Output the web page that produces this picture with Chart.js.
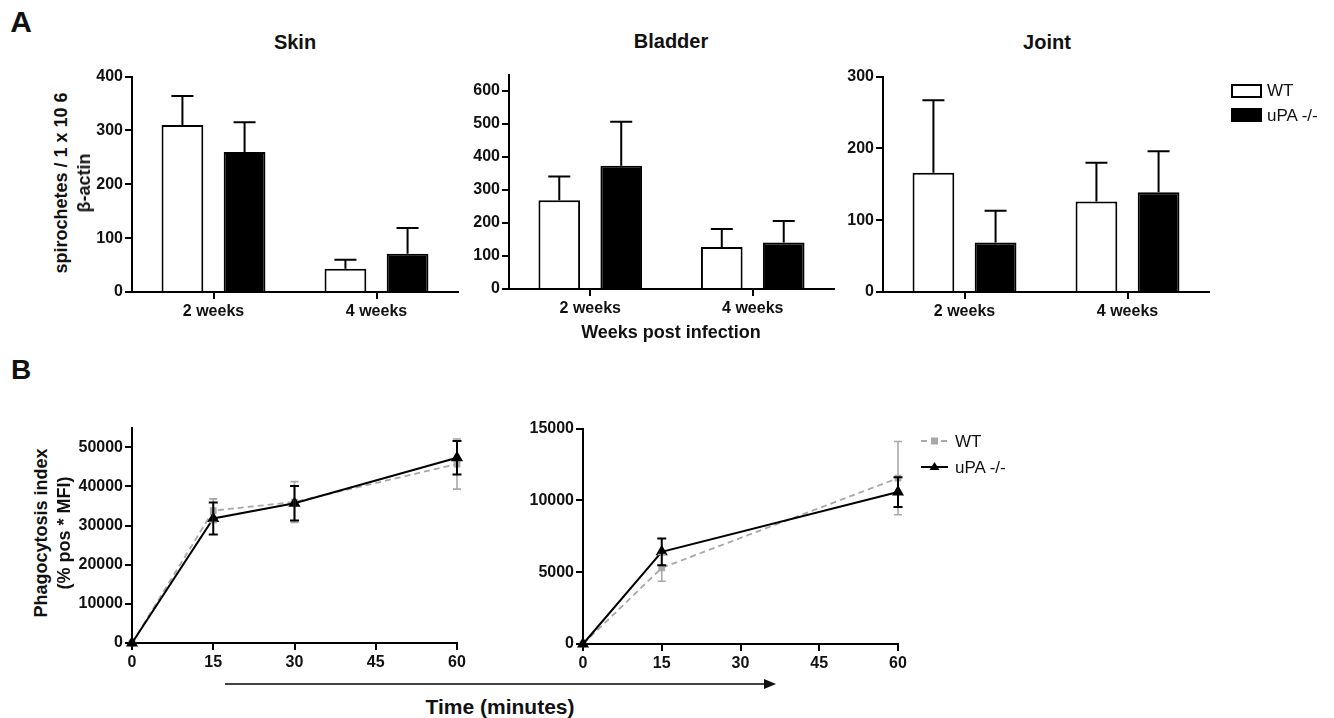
<!DOCTYPE html>
<html>
<head>
<meta charset="utf-8">
<script src="https://cdn.jsdelivr.net/npm/chart.js@4"></script>
<style>
  html, body { margin:0; padding:0; background:#fff; }
  body { width:1334px; height:718px; position:relative; overflow:hidden; font-family:"Liberation Sans", Arial, sans-serif; color:#111; }
  .box { position:absolute; }
  .t { position:absolute; transform:translate(-50%,-50%); white-space:nowrap; line-height:1; font-weight:bold; }
  .rot { transform:translate(-50%,-50%) rotate(-90deg); }
  .lg { position:absolute; white-space:nowrap; line-height:1; font-size:17px; transform:translateY(-50%); }
</style>
</head>
<body>
<script>
// ---------------- DATA ----------------
const barCategories = ['2 weeks', '4 weeks'];

const skinWT       = [310, 43];
const skinWTErr    = [54, 17];
const skinUPA      = [260, 71];
const skinUPAErr   = [55, 48];
const skinTicks    = [0, 100, 200, 300, 400];

const bladderWT     = [269, 127];
const bladderWTErr  = [72, 55];
const bladderUPA    = [374, 141];
const bladderUPAErr = [133, 65];
const bladderTicks  = [0, 100, 200, 300, 400, 500, 600];

const jointWT     = [166, 126];
const jointWTErr  = [101, 54];
const jointUPA    = [69, 139];
const jointUPAErr = [44, 57];
const jointTicks  = [0, 100, 200, 300];

const timeA      = [0, 15, 30, 60];
const phagoWT_A     = [0, 33800, 36000, 45700];
const phagoWT_AErr  = [0, 3000, 5200, 6400];
const phagoUPA_A    = [0, 31800, 35700, 47300];
const phagoUPA_AErr = [0, 4100, 4400, 4300];
const phagoTicksA   = [0, 10000, 20000, 30000, 40000, 50000];

const timeB      = [0, 15, 60];
const phagoWT_B     = [0, 5300, 11550];
const phagoWT_BErr  = [0, 930, 2550];
const phagoUPA_B    = [0, 6420, 10580];
const phagoUPA_BErr = [0, 930, 1040];
const phagoTicksB   = [0, 5000, 10000, 15000];

const timeTicks = [0, 15, 30, 45, 60];
// --------------------------------------

const FONT = '"Liberation Sans", Arial, sans-serif';
const TICK_FONT = { family: FONT, size: 16, weight: 'bold' };

const errorBarPlugin = {
  id: 'errorBars',
  afterDatasetsDraw(chart) {
    const ctx = chart.ctx;
    const ys = chart.scales.y;
    const idx = chart.data.datasets.map((d, i) => i)
      .sort((a, b) => (chart.data.datasets[b].order || 0) - (chart.data.datasets[a].order || 0));
    idx.forEach(di => {
      const ds = chart.data.datasets[di];
      if (!ds.errorBars) return;
      const meta = chart.getDatasetMeta(di);
      meta.data.forEach((el, i) => {
        const err = ds.errorBars[i];
        if (!err) return;
        const raw = ds.data[i];
        const v = (typeof raw === 'object') ? raw.y : raw;
        const yTop = ys.getPixelForValue(v + err);
        const yBot = ds.errorBothSides ? ys.getPixelForValue(v - err) : el.y;
        const cw = ds.capHalf || 5;
        ctx.save();
        ctx.strokeStyle = ds.errorColor || '#000';
        ctx.lineWidth = ds.errorWidth || 2;
        ctx.beginPath();
        ctx.moveTo(el.x, yBot); ctx.lineTo(el.x, yTop);
        ctx.moveTo(el.x - cw, yTop); ctx.lineTo(el.x + cw, yTop);
        if (ds.errorBothSides) { ctx.moveTo(el.x - cw, yBot); ctx.lineTo(el.x + cw, yBot); }
        ctx.stroke();
        ctx.restore();
      });
    });
  }
};

function makeBox(left, top, w, h) {
  const d = document.createElement('div');
  d.className = 'box';
  d.style.left = left + 'px'; d.style.top = top + 'px';
  d.style.width = w + 'px'; d.style.height = h + 'px';
  const c = document.createElement('canvas');
  c.width = w; c.height = h;
  d.appendChild(c);
  document.body.appendChild(d);
  return c;
}

function yAxis(max, tickValues) {
  return {
    min: 0, max: max,
    ticks: { color: '#111', padding: 2, font: TICK_FONT, callback: v => String(v) },
    border: { display: true, color: '#000', width: 2 },
    grid: { display: true, drawOnChartArea: false, drawTicks: true, tickLength: 7, color: '#000', lineWidth: 2 },
    afterBuildTicks(s) { s.ticks = tickValues.map(v => ({ value: v })); },
    afterFit(s) { s.width = 60; }
  };
}

function barChart(canvas, wt, wtErr, upa, upaErr, max, tickValues) {
  return new Chart(canvas, {
    type: 'bar',
    data: {
      labels: barCategories,
      datasets: [
        { label: 'WT', data: wt, errorBars: wtErr, backgroundColor: '#fff', borderColor: '#000', borderWidth: 2, borderSkipped: 'start',
          barPercentage: 0.672, categoryPercentage: 0.7625, capHalf: 11, errorWidth: 2 },
        { label: 'uPA -/-', data: upa, errorBars: upaErr, backgroundColor: '#000', borderColor: '#000', borderWidth: 2, borderSkipped: 'start',
          barPercentage: 0.672, categoryPercentage: 0.7625, capHalf: 11, errorWidth: 2 }
      ]
    },
    options: {
      responsive: false, animation: false,
      layout: { padding: { top: 10, right: 15, left: 0, bottom: 0 } },
      plugins: { legend: { display: false }, tooltip: { enabled: false } },
      scales: {
        x: {
          type: 'category', offset: true,
          ticks: { color: '#111', padding: 3, font: TICK_FONT },
          border: { display: true, color: '#000', width: 2 },
          grid: { display: true, offset: false, drawOnChartArea: false, drawTicks: true, tickLength: 7, color: '#000', lineWidth: 2 },
          afterFit(s) { s.height = 40; }
        },
        y: yAxis(max, tickValues)
      }
    },
    plugins: [errorBarPlugin]
  });
}

function lineChart(canvas, times, wt, wtErr, upa, upaErr, max, tickValues) {
  return new Chart(canvas, {
    type: 'line',
    data: {
      datasets: [
        { label: 'WT', order: 1, data: times.map((t, i) => ({ x: t, y: wt[i] })), errorBars: wtErr, errorBothSides: true,
          borderColor: '#a8a8a8', borderWidth: 1.8, borderDash: [6, 4], pointStyle: 'rect', pointRadius: 3.5,
          pointBackgroundColor: '#a8a8a8', pointBorderColor: '#a8a8a8', errorColor: '#a8a8a8', errorWidth: 1.6, capHalf: 4, clip: false },
        { label: 'uPA -/-', order: 0, data: times.map((t, i) => ({ x: t, y: upa[i] })), errorBars: upaErr, errorBothSides: true,
          borderColor: '#000', borderWidth: 2, pointStyle: 'triangle', pointRadius: 5,
          pointBackgroundColor: '#000', pointBorderColor: '#000', errorColor: '#000', errorWidth: 2, capHalf: 4.5, clip: false }
      ]
    },
    options: {
      responsive: false, animation: false,
      layout: { padding: { top: 10, right: 15, left: 0, bottom: 0 } },
      plugins: { legend: { display: false }, tooltip: { enabled: false } },
      scales: {
        x: {
          type: 'linear', min: 0, max: 60,
          afterBuildTicks(s) { s.ticks = timeTicks.map(v => ({ value: v })); },
          ticks: { color: '#111', padding: 3, font: TICK_FONT, callback: v => String(v) },
          border: { display: true, color: '#000', width: 2 },
          grid: { display: true, drawOnChartArea: false, drawTicks: true, tickLength: 7, color: '#000', lineWidth: 2 },
          afterFit(s) { s.height = 40; }
        },
        y: yAxis(max, tickValues)
      }
    },
    plugins: [errorBarPlugin]
  });
}

// Panel A: plot areas  Skin 132-458 x 75-292, Bladder 509-834 x 73-289, Joint 883-1209 x 75-292
barChart(makeBox(72, 65, 401, 267), skinWT, skinWTErr, skinUPA, skinUPAErr, 400, skinTicks);
barChart(makeBox(449, 63, 400, 266), bladderWT, bladderWTErr, bladderUPA, bladderUPAErr, 650, bladderTicks);
barChart(makeBox(823, 65, 401, 267), jointWT, jointWTErr, jointUPA, jointUPAErr, 300, jointTicks);

// Panel B: plot areas 132-457 x 426-643, 583-898 x 427-644
lineChart(makeBox(72, 416, 400, 267), timeA, phagoWT_A, phagoWT_AErr, phagoUPA_A, phagoUPA_AErr, 55000, phagoTicksA);
lineChart(makeBox(523, 417, 390, 267), timeB, phagoWT_B, phagoWT_BErr, phagoUPA_B, phagoUPA_BErr, 15000, phagoTicksB);

// ---------- Text ----------
function txt(s, x, y, size, extraClass, weight) {
  const d = document.createElement('div');
  d.className = 't' + (extraClass ? ' ' + extraClass : '');
  d.textContent = s;
  d.style.left = x + 'px'; d.style.top = y + 'px';
  d.style.fontSize = size + 'px';
  if (weight) d.style.fontWeight = weight;
  document.body.appendChild(d);
}
txt('A', 21, 22, 30);
txt('B', 21, 370, 28);
txt('Skin', 295, 42, 20);
txt('Bladder', 671, 41, 20);
txt('Joint', 1047, 42, 20);
txt('spirochetes / 1 x 10 6', 61, 183, 18, 'rot');
txt('\u03B2-actin', 84, 183, 18, 'rot');
txt('Weeks post infection', 671, 332, 18);
txt('Phagocytosis index', 41, 533, 18, 'rot');
txt('(% pos * MFI)', 64, 533, 18, 'rot');
txt('Time (minutes)', 500, 706, 21);

// Legend A
function legendA() {
  const b1 = document.createElement('div');
  b1.style.cssText = 'position:absolute;left:1231px;top:84px;width:27px;height:10px;border:2px solid #000;background:#fff;';
  document.body.appendChild(b1);
  const b2 = document.createElement('div');
  b2.style.cssText = 'position:absolute;left:1231px;top:108px;width:31px;height:14px;background:#000;';
  document.body.appendChild(b2);
  const l1 = document.createElement('div'); l1.className = 'lg'; l1.textContent = 'WT';
  l1.style.left = '1267px'; l1.style.top = '90px'; document.body.appendChild(l1);
  const l2 = document.createElement('div'); l2.className = 'lg'; l2.textContent = 'uPA -/-';
  l2.style.left = '1267px'; l2.style.top = '115px'; document.body.appendChild(l2);
}
legendA();

// Legend B + arrow (svg)
const svgNS = 'http://www.w3.org/2000/svg';
const svg = document.createElementNS(svgNS, 'svg');
svg.setAttribute('width', '1334'); svg.setAttribute('height', '718');
svg.style.cssText = 'position:absolute;left:0;top:0;pointer-events:none;';
svg.innerHTML =
  '<line x1="921" y1="441" x2="948" y2="441" stroke="#a8a8a8" stroke-width="1.8" stroke-dasharray="6 4"/>' +
  '<rect x="931" y="437.5" width="7" height="7" fill="#a8a8a8"/>' +
  '<line x1="921" y1="467" x2="948" y2="467" stroke="#000" stroke-width="2"/>' +
  '<polygon points="934.5,462 939.5,470 929.5,470" fill="#000"/>' +
  '<line x1="225" y1="684" x2="766" y2="684" stroke="#444" stroke-width="2"/>' +
  '<polygon points="776,684 764,679 764,689" fill="#111"/>';
document.body.appendChild(svg);
const lb1 = document.createElement('div'); lb1.className = 'lg'; lb1.textContent = 'WT';
lb1.style.left = '955px'; lb1.style.top = '441px'; document.body.appendChild(lb1);
const lb2 = document.createElement('div'); lb2.className = 'lg'; lb2.textContent = 'uPA -/-';
lb2.style.left = '955px'; lb2.style.top = '467px'; document.body.appendChild(lb2);
</script>
</body>
</html>
